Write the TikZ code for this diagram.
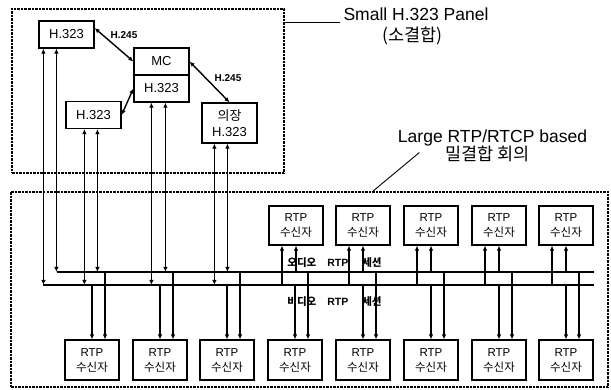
\documentclass[tikz,border=0pt]{standalone}
\usepackage{fontspec}
\setmainfont{Liberation Sans}
\newfontfamily\kr{Noto Sans CJK KR}
\usetikzlibrary{arrows.meta}

\begin{document}
\begin{tikzpicture}[x=1pt,y=-1pt,line width=1.2pt,>={Latex[length=5pt,width=4.5pt]},
  box/.style={draw,minimum width=55pt,minimum height=27pt,inner sep=1pt,font=\fontsize{13}{15}\selectfont},
  rcv/.style={draw,minimum width=54pt,minimum height=39pt,inner sep=1pt,align=center,font=\fontsize{11.5}{15}\selectfont},
  panel/.style={draw,dash pattern=on 2.5pt off 1pt,inner sep=0pt},
  tag/.style={font=\fontsize{10}{12}\selectfont\bfseries},
  title/.style={font=\fontsize{17.5}{20}\selectfont},
  sess/.style={font=\fontsize{10.5}{12}\selectfont\bfseries}]
  \useasboundingbox (0,0) rectangle (611,390);
  % dashed frames
  \node[panel,minimum width=272pt,minimum height=164pt] (small) at (148,91) {};
  \node[panel,minimum width=597pt,minimum height=195pt] (large) at (309.5,289.5) {};
  \node[title] (smA) at (416,14) {Small H.323 Panel};
  \node[title] (smB) at (412.5,36) {\kr (소결합)};
  \node[title] (lgA) at (492.5,138) {Large RTP/RTCP based};
  \node[title] (lgB) at (487.5,153.5) {\kr 밀결합 회의};
  \draw[line width=0.9pt] ([yshift=-8pt]smA.west -| small.east) -- ([yshift=-8pt]smA.west);
  \coordinate (lead) at (372,192);
  \draw[line width=0.9pt] (lead) -- ([xshift=-22pt,yshift=1pt]lgB.west);
  % H.323 panel
  \node[box] (h1) at (66.5,34.5) {H.323};
  \node[box] (mc) at (161.5,61.5) {MC};
  \node[box] (h0) at (161.5,88.5) {H.323};
  \node[box] (h2) at (93.5,115) {H.323};
  \node[box,minimum height=40pt,align=center,font=\fontsize{13}{16}\selectfont] (ch) at (229.5,123) {{\kr 의장}\\H.323};
  \draw[<->,line width=1.4pt] ([yshift=6.5]h1.east) -- (mc.west);
  \draw[<->,line width=1.4pt] (mc.east) -- (ch.north);
  \draw[<->,line width=1.4pt] (h2.east) -- (h0.west);
  \node[tag] (lb1) at (124,35) {H.245};
  \node[tag] (lb2) at (228,78) {H.245};
  % audio / video sessions
  \coordinate (a0) at (57,272); \coordinate (a1) at (594,272);
  \coordinate (v0) at (43,285); \coordinate (v1) at (594,285);
  \draw (a0) -- (a1);
  \draw (v0) -- (v1);
  \node[sess] (au) at (334.5,263) {{\kr 오디오}\hspace{11pt}RTP\hspace{14pt}{\kr 세션}};
  \node[sess] (vi) at (334.5,302) {{\kr 비디오}\hspace{11pt}RTP\hspace{14pt}{\kr 세션}};
  \foreach \n/\p/\q in {h1/5/18,h2/19/32,h0/18/32,ch/13/26}{
    \draw[<->] ([xshift=\p]\n.south west) -- ([xshift=\p]\n.south west |- v0);
    \draw[<->] ([xshift=\q]\n.south west) -- ([xshift=\q]\n.south west |- a0);
  }
  % RTP receivers
  \foreach \i/\x in {1/296,2/363,3/431,4/499,5/566}
    \node[rcv] (up\i) at (\x,225.5) {RTP\\{\kr 수신자}};
  \foreach \i/\x in {1/92,2/160,3/227,4/295,5/363,6/431,7/499,8/566}
    \node[rcv,minimum height=40pt] (dn\i) at (\x,360) {RTP\\{\kr 수신자}};
  \foreach \i in {1,...,5}{
    \draw[->] ([xshift=-14]up\i.south |- v0) -- ([xshift=-14]up\i.south);
    \draw[->] (up\i.south |- a0) -- (up\i.south);
  }
  \foreach \i in {1,...,8}{
    \draw[->] (dn\i.north |- v0) -- (dn\i.north);
    \draw[->] ([xshift=13]dn\i.north |- a0) -- ([xshift=13]dn\i.north);
  }
\end{tikzpicture}
\end{document}
